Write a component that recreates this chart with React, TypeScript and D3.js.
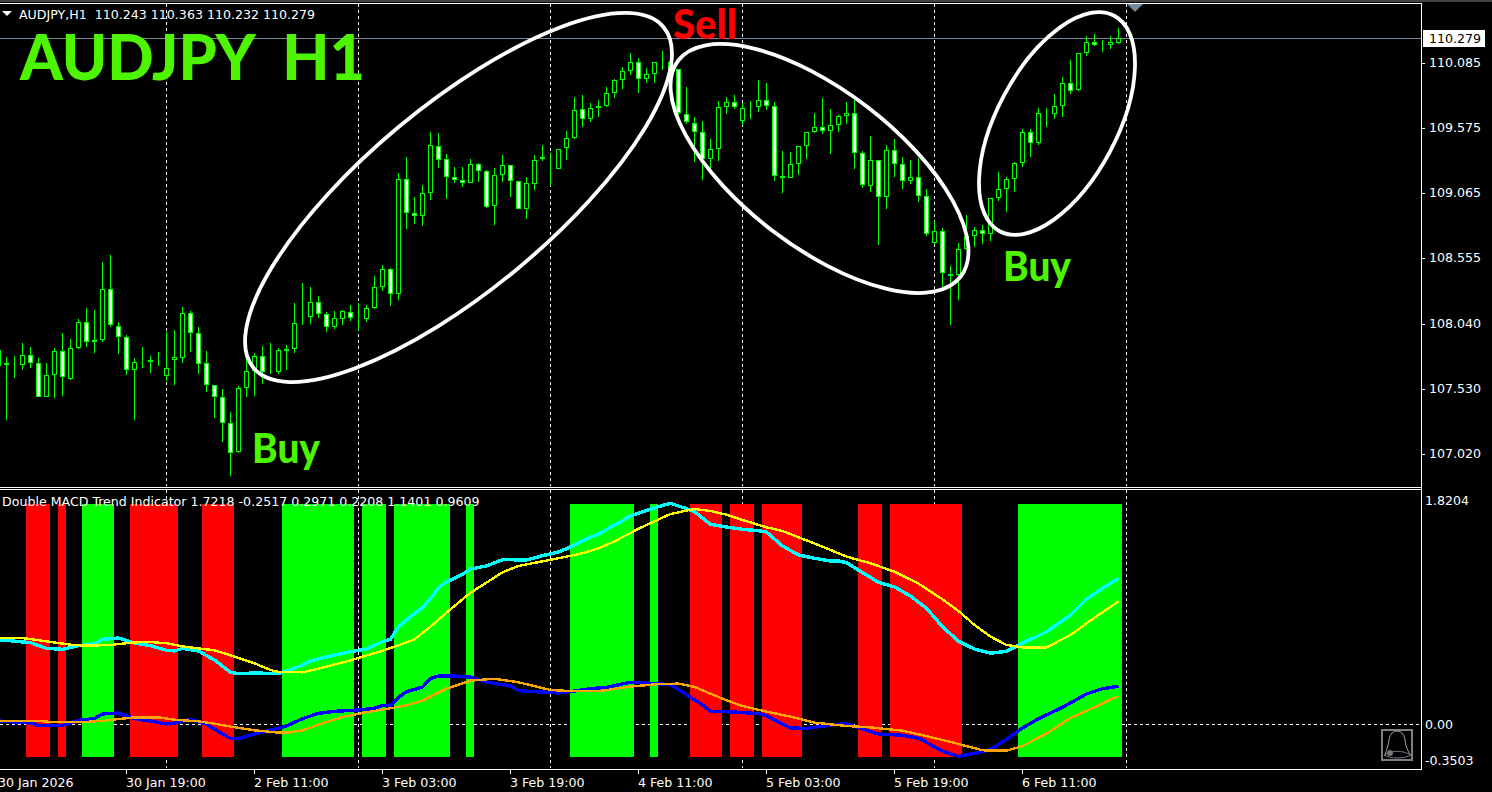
import React from 'react';
import * as d3 from 'd3';

// bar index of the first candle, it is cut by the left edge
const firstBar = -1;

const opens = [
  107.708,107.713,107.721,107.718,107.791,107.728,107.467,107.634,107.823,107.608,107.851,
  108.050,107.893,107.909,108.309,108.019,107.932,107.674,107.736,107.736,107.752,
  107.626,107.752,107.768,108.121,107.964,107.728,107.556,107.462,107.258,107.030,
  107.532,107.666,107.783,107.658,107.658,107.823,107.838,108.082,108.089,108.207,
  108.113,108.011,108.074,108.129,108.066,108.074,108.160,108.325,108.466,108.270,
  109.172,108.905,108.882,109.062,109.431,109.329,109.188,109.164,109.141,109.290,
  109.235,108.960,109.203,109.282,109.156,108.937,109.133,109.329,109.250,109.250,
  109.415,109.494,109.721,109.643,109.729,109.745,109.847,109.949,110.019,110.090,
  109.957,109.996,110.087,110.035,110.035,109.682,109.611,109.541,109.329,109.407,
  109.737,109.776,109.627,109.729,109.737,109.792,109.745,109.196,109.180,109.290,
  109.431,109.541,109.580,109.549,109.596,109.666,109.690,109.376,109.117,109.321,
  109.031,109.400,109.290,109.156,109.188,109.039,108.670,108.764,108.427,108.419,
  108.623,108.725,108.772,108.741,109.023,109.094,109.172,109.298,109.541,109.455,
  109.679,109.682,109.745,109.925,109.870,110.161,110.247,110.218,110.223,110.243,
];
const closes = [
  107.833,107.728,107.726,107.791,107.728,107.467,107.634,107.823,107.619,107.846,108.050,
  107.893,107.909,108.309,108.027,107.932,107.674,107.736,107.744,107.752,107.760,
  107.689,107.776,108.121,107.964,107.721,107.556,107.462,107.258,107.022,107.532,
  107.666,107.783,107.658,107.653,107.830,107.838,108.042,108.089,108.207,108.113,
  108.011,108.082,108.136,108.082,108.074,108.160,108.325,108.466,108.270,109.172,
  108.905,108.882,109.062,109.439,109.321,109.188,109.164,109.141,109.290,109.235,
  108.958,109.203,109.282,109.156,108.937,109.141,109.321,109.345,109.258,109.407,
  109.494,109.713,109.643,109.729,109.745,109.847,109.949,110.019,110.090,109.957,
  109.996,110.090,110.092,110.090,109.690,109.619,109.541,109.329,109.407,109.737,
  109.776,109.737,109.729,109.737,109.792,109.745,109.196,109.180,109.290,109.431,
  109.541,109.580,109.549,109.596,109.666,109.690,109.376,109.125,109.321,109.031,
  109.400,109.290,109.156,109.188,109.039,108.741,108.764,108.435,108.411,108.623,
  108.725,108.772,108.741,109.023,109.094,109.172,109.298,109.541,109.455,109.690,
  109.687,109.745,109.925,109.863,110.161,110.247,110.223,110.223,110.247,110.279,
];
const highs = [
  107.833,107.781,107.786,107.891,107.854,107.770,107.728,107.849,107.964,107.917,108.074,
  108.160,108.147,108.523,108.578,108.050,107.948,107.770,107.854,107.786,107.817,
  107.974,107.990,108.168,108.136,108.011,107.823,107.556,107.524,107.347,107.551,
  107.781,107.807,107.864,107.885,107.846,107.870,108.199,108.356,108.325,108.254,
  108.129,108.136,108.144,108.184,108.199,108.184,108.411,108.497,108.474,109.219,
  109.345,109.031,109.125,109.541,109.533,109.368,109.269,109.269,109.329,109.298,
  109.243,109.258,109.360,109.282,109.156,109.188,109.360,109.439,109.376,109.407,
  109.549,109.815,109.831,109.768,109.792,109.894,109.957,110.051,110.161,110.121,
  110.045,110.090,110.176,110.190,110.035,109.894,109.658,109.627,109.486,109.784,
  109.815,109.831,109.768,109.784,109.949,109.925,109.776,109.392,109.384,109.431,
  109.541,109.690,109.808,109.724,109.674,109.776,109.795,109.392,109.509,109.321,
  109.439,109.486,109.345,109.321,109.337,109.094,108.845,108.788,108.490,108.670,
  108.890,108.796,108.811,109.023,109.227,109.188,109.305,109.564,109.564,109.729,
  109.729,109.839,109.972,110.106,110.161,110.294,110.310,110.263,110.294,110.363,
];
const lows = [
  107.708,107.284,107.613,107.676,107.692,107.467,107.467,107.456,107.472,107.598,107.838,
  107.854,107.807,107.896,108.016,107.802,107.640,107.284,107.692,107.650,107.708,
  107.587,107.558,107.728,107.817,107.645,107.504,107.300,107.111,106.845,107.022,
  107.467,107.472,107.566,107.645,107.645,107.676,107.812,108.029,108.037,108.084,
  107.974,108.000,108.032,108.063,107.982,108.055,108.152,108.296,108.178,108.225,
  108.782,108.822,108.806,109.010,109.261,109.018,109.143,109.112,109.141,109.151,
  108.947,108.814,109.151,109.033,108.937,108.858,109.088,109.318,109.120,109.250,
  109.324,109.486,109.580,109.624,109.658,109.737,109.810,109.878,109.993,109.852,
  109.930,109.930,110.030,110.020,109.674,109.606,109.311,109.167,109.219,109.318,
  109.685,109.726,109.596,109.643,109.700,109.716,109.162,109.067,109.180,109.206,
  109.334,109.533,109.528,109.371,109.543,109.606,109.251,109.107,109.075,108.657,
  108.939,109.190,109.096,109.136,108.994,108.728,108.654,108.330,108.029,108.226,
  108.618,108.639,108.665,108.688,109.002,108.916,109.073,109.269,109.347,109.442,
  109.583,109.645,109.661,109.842,109.868,110.140,110.218,110.171,110.195,110.232,
];

const priceTicks = [110.085, 109.575, 109.065, 108.555, 108.04, 107.53, 107.02];
const lastPrice = 110.279;

// midnight separators and the axis labels, both as bar indexes
const gridBars = [20, 44, 68, 92, 116, 140];
const timeBars = [-1, 15, 31, 47, 63, 79, 95, 111, 127];
const timeLabels = ['30 Jan 2026', '30 Jan 19:00', '2 Feb 11:00', '3 Feb 03:00', '3 Feb 19:00', '4 Feb 11:00', '5 Feb 03:00', '5 Feb 19:00', '6 Feb 11:00'];

// histogram runs: first bar, last bar
const histHigh = 1.7218;
const histLow = -0.2517;
const redRuns = [[3, 5], [7, 7], [16, 21], [25, 28], [86, 89], [91, 93], [95, 99], [107, 109], [111, 119]];
const greenRuns = [[10, 13], [35, 43], [45, 47], [49, 55], [58, 58], [71, 78], [81, 81], [127, 139]];

// indicator lines as [bar, value]
const cyanLine = [[-1,.661],[3,.638],[5,.593],[7,.586],[9,.614],[11,.630],[12,.664],[14,.674],[16,.635],[18,.614],[20,.578],[21,.573],[22,.593],[24,.573],[26,.502],[28,.406],[29,.396],[31,.401],[34,.396],[36,.437],[38,.495],[41,.541],[43,.567],[45,.588],[47,.646],[48,.664],[49,.763],[50,.815],[51,.867],[52,.911],[53,.984],[54,1.067],[55,1.112],[56,1.140],[57,1.172],[58,1.213],[60,1.237],[62,1.286],[65,1.284],[67,1.317],[69,1.346],[70,1.372],[72,1.435],[74,1.487],[77,1.591],[78,1.630],[80,1.669],[81,1.692],[83,1.726],[85,1.685],[86,1.661],[88,1.562],[90,1.541],[92,1.523],[94,1.513],[95,1.502],[97,1.393],[99,1.323],[101,1.297],[103,1.276],[104,1.276],[105,1.263],[107,1.185],[109,1.109],[111,1.073],[113,1.002],[115,.906],[117,.763],[119,.648],[121,.588],[123,.555],[125,.570],[127,.633],[130,.724],[133,.854],[135,.979],[137,1.062],[139,1.140]];
const yellowLine = [[-1,.674],[2,.674],[5,.648],[8,.622],[10,.614],[13,.620],[16,.640],[18,.643],[20,.633],[22,.609],[24,.593],[26,.578],[28,.539],[31,.476],[33,.424],[34,.409],[37,.406],[39,.435],[43,.500],[47,.575],[49,.617],[51,.664],[53,.763],[55,.872],[58,1.028],[60,1.107],[62,1.187],[64,1.237],[67,1.273],[70,1.310],[72,1.336],[74,1.375],[76,1.430],[79,1.528],[81,1.586],[83,1.643],[86,1.682],[88,1.666],[90,1.638],[92,1.596],[95,1.539],[97,1.510],[99,1.461],[102,1.388],[105,1.310],[108,1.258],[111,1.192],[114,1.099],[117,.976],[119,.885],[121,.776],[123,.685],[125,.620],[127,.601],[130,.601],[133,.698],[136,.833],[139,.961]];
const blueLine = [[-1,.026],[3,.010],[4,-.008],[7,-.008],[9,.031],[11,.044],[12,.081],[14,.088],[16,.044],[18,.026],[20,.002],[21,.010],[23,.039],[25,0],[27,-.076],[28,-.112],[29,-.110],[32,-.060],[34,-.031],[35,-.013],[37,.044],[39,.086],[41,.101],[44,.112],[46,.125],[47,.148],[48,.148],[49,.211],[50,.255],[52,.291],[53,.359],[54,.377],[56,.377],[58,.369],[60,.330],[63,.299],[64,.263],[66,.255],[69,.245],[71,.260],[73,.278],[75,.289],[78,.328],[81,.318],[83,.310],[85,.231],[87,.151],[88,.101],[91,.096],[94,.083],[95,.067],[96,.034],[98,-.029],[100,-.032],[103,-.005],[105,.005],[107,-.037],[109,-.076],[112,-.086],[114,-.110],[115,-.141],[117,-.211],[119,-.250],[121,-.227],[123,-.196],[125,-.117],[127,-.029],[129,.044],[132,.133],[135,.237],[137,.278],[139,.297]];
const orangeLine = [[-1,.026],[4,.026],[6,.016],[9,.016],[12,.026],[14,.041],[16,.054],[19,.054],[21,.036],[24,.023],[26,.005],[28,-.018],[31,-.047],[34,-.065],[35,-.065],[37,-.047],[39,-.003],[42,.057],[45,.094],[48,.125],[50,.148],[52,.185],[55,.278],[58,.341],[61,.356],[64,.328],[68,.268],[71,.258],[74,.258],[78,.294],[81,.312],[84,.318],[86,.292],[90,.187],[92,.143],[95,.099],[98,.060],[101,.013],[105,-.013],[108,-.024],[112,-.050],[115,-.092],[118,-.138],[120,-.170],[122,-.203],[125,-.206],[127,-.170],[130,-.073],[133,.049],[136,.133],[139,.221]];

const UI_FONT = '"DejaVu Sans", sans-serif';
const BIG_FONT = 'Lato, sans-serif';
const UI_SIZE = 12.6;
const LIME = '#00ff00';
const LABEL = '#4df500';

const App = () => {
  const width = 1492;
  const height = 792;
  const axisX = 1421;

  const x = d3.scaleLinear().domain([-1, 140]).range([-1.5, 1126.5]);
  const yPrice = d3.scaleLinear().domain([110.579, 107.025]).range([0, 453]);
  const yMacd = d3.scaleLinear().domain([0, histHigh]).range([724.3, 503.9]);

  const macdPath = d3.line<number[]>()
    .x(d => x(d[0]))
    .y(d => yMacd(d[1]));

  const candles = d3.range(opens.length).map(i => {
    const up = closes[i] >= opens[i];
    const top = Math.round(yPrice(Math.max(opens[i], closes[i])));
    const bottom = Math.round(yPrice(Math.min(opens[i], closes[i])));
    return { bar: firstBar + i, up, top, bottom, hi: Math.round(yPrice(highs[i])), lo: Math.round(yPrice(lows[i])) };
  });

  const histRect = (run: number[], fill: string) => (
    <rect
      key={`${fill}-${run[0]}`}
      x={x(run[0]) - 4.5}
      width={x(run[1]) - x(run[0]) + 8}
      y={yMacd(histHigh)}
      height={yMacd(histLow) - yMacd(histHigh)}
      fill={fill}
      shapeRendering="crispEdges"
    />
  );

  return (
    <svg width={width} height={height} style={{ position: 'absolute', left: 0, top: 0, background: '#000' }}>
      <rect x={0} y={0} width={width} height={2} fill="#444" />

      {/* separators */}
      <g stroke="#fff" strokeDasharray="3,3" shapeRendering="crispEdges">
        {gridBars.map(b => (
          <g key={b}>
            <line x1={x(b)} x2={x(b)} y1={4} y2={486} />
            <line x1={x(b)} x2={x(b)} y1={490} y2={768} />
          </g>
        ))}
      </g>

      <line x1={0} x2={axisX} y1={38.5} y2={38.5} stroke="#778899" shapeRendering="crispEdges" />

      {/* candles */}
      <g shapeRendering="crispEdges">
        {candles.map(c => (
          <g key={c.bar}>
            <line x1={x(c.bar)} x2={x(c.bar)} y1={c.hi} y2={c.lo} stroke={LIME} />
            <rect
              x={x(c.bar) - 2}
              y={c.top + 0.5}
              width={4}
              height={Math.max(0, c.bottom - c.top - 1)}
              fill={c.up ? '#000' : '#fff'}
              stroke={LIME}
            />
          </g>
        ))}
      </g>

      {/* annotations */}
      <g fill="none" stroke="#fff" strokeWidth={3.8}>
        <ellipse cx={0} cy={0} rx={266.6} ry={92.5} transform="translate(458.5,197.5) rotate(-39.7)" />
        <ellipse cx={0} cy={0} rx={177.8} ry={78} transform="translate(819.5,168.5) rotate(37.4)" />
        <ellipse cx={0} cy={0} rx={122} ry={60} transform="translate(1057,123.5) rotate(-62)" />
      </g>
      <g fontFamily={BIG_FONT} fontWeight={900}>
        <text x={20} y={80} fontSize={63} fill={LABEL} xmlSpace="preserve" textLength={345} lengthAdjust="spacingAndGlyphs">AUDJPY  H1</text>
        <text x={252} y={463} fontSize={41} fill={LABEL} textLength={68} lengthAdjust="spacingAndGlyphs">Buy</text>
        <text x={1003} y={281} fontSize={41} fill={LABEL} textLength={68} lengthAdjust="spacingAndGlyphs">Buy</text>
        <text x={673} y={39} fontSize={41} fill="#ff0000" textLength={64} lengthAdjust="spacingAndGlyphs">Sell</text>
      </g>

      <path d="M2,11 H12 L7,16 Z" fill="#fff" />
      <text x={19} y={19} fontFamily={UI_FONT} fontSize={UI_SIZE} fill="#fff" xmlSpace="preserve">AUDJPY,H1  110.243 110.363 110.232 110.279</text>
      <path d="M1127,4 H1143 L1135,12 Z" fill="#778899" />

      {/* indicator window */}
      <line x1={0} x2={axisX} y1={724.5} y2={724.5} stroke="#fff" strokeDasharray="3,3" shapeRendering="crispEdges" />
      {redRuns.map(r => histRect(r, '#ff0000'))}
      {greenRuns.map(r => histRect(r, '#00ff00'))}
      <g fill="none" shapeRendering="crispEdges">
        <path d={macdPath(cyanLine)!} stroke="#00ffff" strokeWidth={3.4} />
        <path d={macdPath(yellowLine)!} stroke="#ffff00" strokeWidth={2.4} />
        <path d={macdPath(blueLine)!} stroke="#0000ff" strokeWidth={3.4} />
        <path d={macdPath(orangeLine)!} stroke="#ffa500" strokeWidth={2.4} />
      </g>
      <text x={2} y={506} fontFamily={UI_FONT} fontSize={UI_SIZE} fill="#fff">Double MACD Trend Indicator 1.7218 -0.2517 0.2971 0.2208 1.1401 0.9609</text>

      {/* alert bell */}
      <g fill="none">
        <rect x={1382} y={730} width={30} height={30} stroke="#808080" strokeWidth={2} />
        <path d="M1385,755 C1386,750 1388,748 1389,740 C1390,733 1394,731 1397,731 C1400,731 1404,733 1405,740 C1406,748 1408,750 1410,755" stroke="#9ab" strokeWidth={1} />
        <path d="M1384,755 C1392,750 1402,750 1411,755 C1404,759 1391,759 1384,755 Z" stroke="#778" strokeWidth={1} />
        <circle cx={1390} cy={753} r={3} fill="#777" />
      </g>

      {/* frame */}
      <g stroke="#fff" shapeRendering="crispEdges">
        <line x1={0} x2={axisX + 1} y1={3.5} y2={3.5} />
        <line x1={0} x2={axisX + 1} y1={487.5} y2={487.5} />
        <line x1={0} x2={axisX + 1} y1={489.5} y2={489.5} />
        <line x1={0} x2={axisX + 1} y1={769.5} y2={769.5} />
        <line x1={axisX + 0.5} x2={axisX + 0.5} y1={3} y2={770} />
      </g>

      {/* price axis */}
      <g fontFamily={UI_FONT} fontSize={UI_SIZE} fill="#fff">
        {priceTicks.map(p => (
          <g key={p}>
            <line x1={axisX + 1} x2={axisX + 4} y1={Math.round(yPrice(p)) + 0.5} y2={Math.round(yPrice(p)) + 0.5} stroke="#fff" shapeRendering="crispEdges" />
            <text x={1429} y={yPrice(p) + 4.5}>{p.toFixed(3)}</text>
          </g>
        ))}
        <rect x={1423} y={30} width={62} height={17} fill="#fff" />
        <text x={1429} y={yPrice(lastPrice) + 4.5} fill="#000">{lastPrice.toFixed(3)}</text>
        <text x={1425} y={504.5}>1.8204</text>
        <text x={1425} y={729}>0.00</text>
        <text x={1425} y={764.5}>-0.3503</text>
      </g>

      {/* time axis */}
      <g fontFamily={UI_FONT} fontSize={UI_SIZE} fill="#fff">
        {timeBars.map((b, i) => (
          <g key={b}>
            <line x1={x(b)} x2={x(b)} y1={770} y2={774} stroke="#fff" shapeRendering="crispEdges" />
            <text x={x(b) - 0.5} y={787}>{timeLabels[i]}</text>
          </g>
        ))}
      </g>
    </svg>
  );
};

export default App;
